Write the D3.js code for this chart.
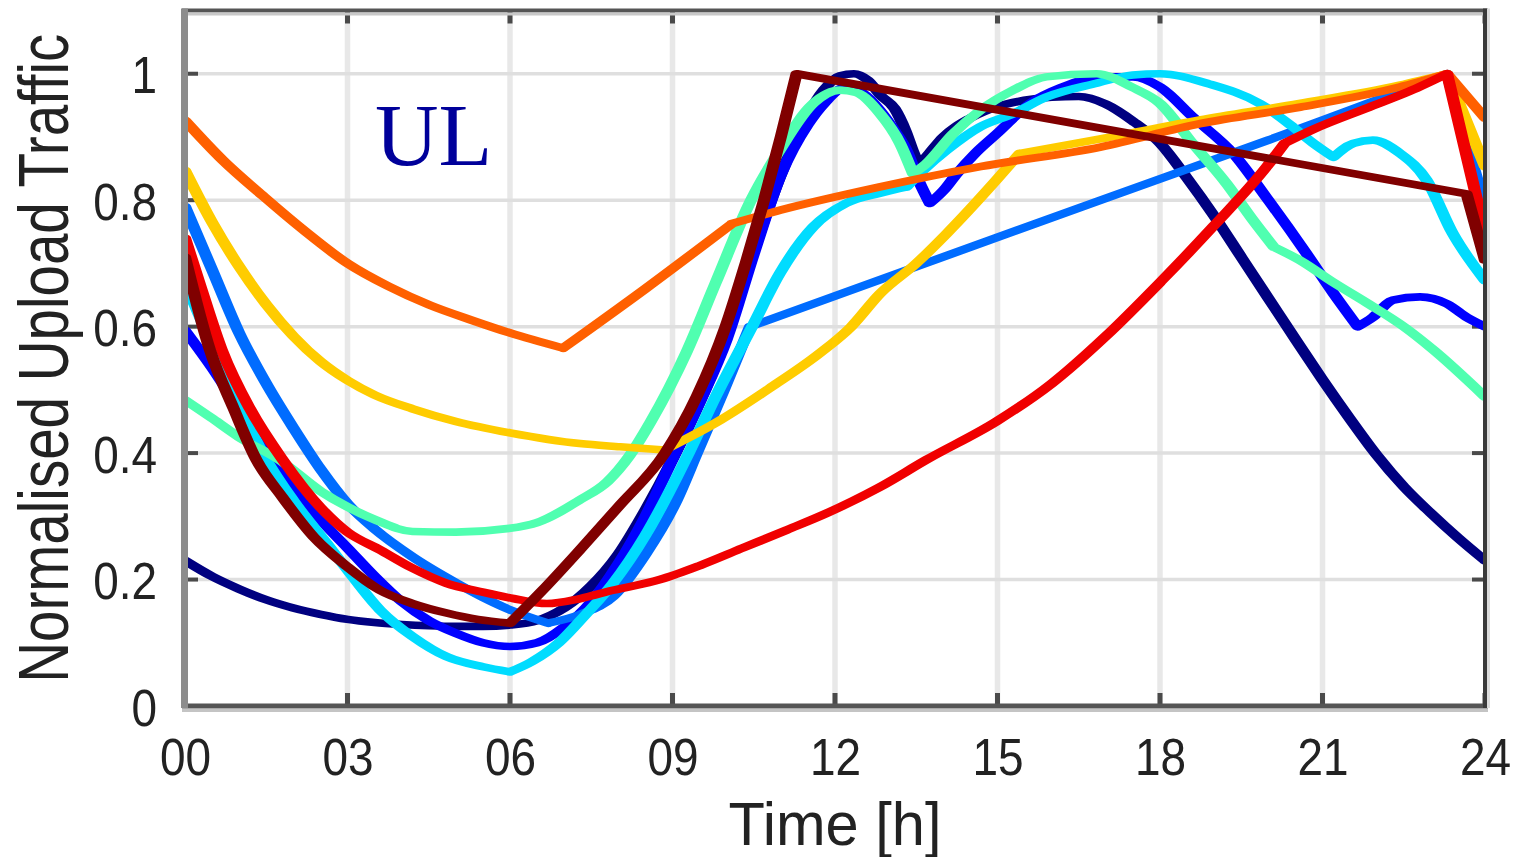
<!DOCTYPE html>
<html>
<head>
<meta charset="utf-8">
<script src="https://cdn.jsdelivr.net/npm/d3@7"></script>
<style>
  html, body { margin: 0; padding: 0; background: #fff; }
  svg { display: block; }
</style>
</head>
<body>
<svg id="chart" width="1518" height="857"></svg>
<script>
// Hourly upload traffic profiles, normalised to each profile's daily peak.
const xTickValues = [0, 3, 6, 9, 12, 15, 18, 21, 24];
const xTickLabels = ["00", "03", "06", "09", "12", "15", "18", "21", "24"];
const yTickValues = [0, 0.2, 0.4, 0.6, 0.8, 1];
const yTickLabels = ["0", "0.2", "0.4", "0.6", "0.8", "1"];

// [hour, normalised traffic]
const profileNavy = [[0,0.230],[0.5,0.205],[1,0.185],[1.5,0.168],[2,0.155],[2.5,0.145],[3,0.137],[3.5,0.132],[4,0.129],[4.5,0.127],[5,0.126],[5.5,0.126],[6,0.128],[6.5,0.135],[7,0.155],[7.5,0.19],[8,0.24],[8.5,0.31],[9,0.39],[9.5,0.48],[10,0.585],[10.5,0.72],[11,0.84],[11.5,0.935],[11.8,0.975],[12.1,0.997],[12.35,1.0],[12.6,0.99],[12.85,0.965],[13.1,0.945],[13.3,0.91],[13.45,0.875],[13.55,0.855],[13.75,0.875],[14,0.9],[14.5,0.93],[15,0.948],[15.5,0.958],[16,0.963],[16.5,0.964],[17,0.952],[17.5,0.925],[18,0.89],[18.5,0.835],[19,0.775],[19.5,0.71],[20,0.645],[20.5,0.58],[21,0.516],[21.5,0.455],[22,0.397],[22.5,0.347],[23,0.305],[23.5,0.266],[24,0.23]];
const profileBlue = [[0,0.594],[0.5,0.535],[1,0.47],[1.5,0.41],[2,0.35],[2.5,0.295],[3,0.25],[3.5,0.205],[4,0.165],[4.5,0.135],[5,0.115],[5.5,0.10],[6,0.094],[6.5,0.10],[7,0.125],[7.5,0.165],[8,0.225],[8.5,0.30],[9,0.39],[9.5,0.48],[10,0.58],[10.5,0.715],[11,0.84],[11.5,0.92],[11.8,0.953],[12.2,0.979],[12.5,0.97],[12.83,0.942],[13.1,0.91],[13.32,0.879],[13.55,0.83],[13.75,0.795],[14,0.815],[14.25,0.842],[14.6,0.875],[15,0.906],[15.6,0.953],[16.2,0.979],[16.9,0.995],[17.5,0.995],[18,0.979],[18.6,0.932],[19.35,0.874],[20,0.80],[20.7,0.716],[21.2,0.653],[21.65,0.6],[21.93,0.615],[22.3,0.642],[22.8,0.647],[23.3,0.636],[23.66,0.615],[24,0.6]];
const profileAzure = [[0,0.79],[0.5,0.69],[1,0.59],[1.5,0.51],[2,0.44],[2.5,0.375],[3,0.32],[3.5,0.28],[4.2,0.236],[5,0.195],[5.5,0.172],[6,0.152],[6.7,0.131],[7.3,0.145],[7.9,0.173],[8.5,0.24],[9.08,0.326],[9.45,0.40],[9.95,0.50],[10.43,0.6],[16.9,0.8],[20,0.895],[23.3,1.0],[24,0.79]];
const profileCyan = [[0,0.67],[0.5,0.57],[1,0.475],[1.5,0.39],[2,0.325],[2.62,0.257],[3,0.215],[3.6,0.152],[4.2,0.11],[4.83,0.078],[5.5,0.062],[6,0.054],[6.4,0.07],[6.9,0.1],[7.4,0.145],[7.9,0.194],[8.5,0.27],[9.08,0.362],[9.3,0.40],[9.8,0.49],[10.47,0.6],[10.98,0.684],[11.6,0.758],[12.2,0.795],[12.83,0.811],[13.32,0.821],[13.6,0.845],[14.06,0.879],[14.68,0.916],[15.29,0.937],[15.9,0.963],[16.83,0.985],[17.5,0.998],[18,1.0],[18.9,0.984],[19.84,0.953],[20.45,0.916],[20.83,0.89],[21.2,0.868],[21.57,0.89],[21.93,0.895],[22.43,0.874],[22.92,0.832],[23.4,0.748],[24,0.673]];
const profileGreen = [[0,0.484],[0.5,0.455],[1,0.425],[1.75,0.389],[2.5,0.34],[3,0.315],[3.5,0.295],[4.2,0.276],[5,0.275],[6,0.281],[6.5,0.29],[7.29,0.326],[7.8,0.355],[8.2,0.395],[8.6,0.45],[9.26,0.56],[9.8,0.67],[10.45,0.8],[10.98,0.879],[11.6,0.953],[12.09,0.974],[12.4,0.97],[12.83,0.937],[13.2,0.89],[13.44,0.842],[13.69,0.858],[14.18,0.905],[14.68,0.942],[15.29,0.974],[15.9,0.995],[16.83,1.0],[17.5,0.978],[18.0,0.953],[18.6,0.89],[19.23,0.826],[19.72,0.768],[20.1,0.726],[20.58,0.705],[21.2,0.67],[21.83,0.637],[22.5,0.6],[23.05,0.563],[24,0.489]];
const profileYellow = [[0,0.847],[0.5,0.765],[1,0.695],[1.5,0.635],[2,0.585],[2.5,0.545],[3,0.515],[3.5,0.492],[4.2,0.47],[5,0.45],[6,0.432],[7.29,0.415],[8.03,0.41],[8.85,0.405],[9.88,0.452],[10.8,0.503],[11.72,0.558],[12.3,0.60],[12.83,0.652],[13.5,0.70],[14.06,0.747],[14.98,0.832],[15.41,0.874],[16.9,0.897],[18.74,0.927],[20.58,0.953],[22.43,0.982],[23.3,1.0],[24,0.853]];
const profileOrange = [[0,0.926],[0.7,0.863],[1.45,0.806],[2.2,0.752],[3.0,0.70],[3.75,0.664],[4.52,0.634],[5.3,0.61],[6.0,0.59],[6.98,0.566],[8.5,0.66],[10.1,0.763],[10.98,0.784],[12.83,0.821],[14.68,0.853],[16.9,0.884],[18.74,0.921],[20.58,0.947],[22.43,0.979],[23.3,1.0],[24,0.93]];
const profileRed = [[0,0.74],[0.3,0.66],[0.68,0.563],[1.2,0.47],[1.8,0.39],[2.49,0.315],[3.0,0.275],[3.6,0.247],[4.2,0.218],[4.83,0.194],[5.5,0.18],[6.06,0.170],[6.68,0.162],[7.3,0.17],[7.9,0.183],[8.77,0.20],[9.5,0.222],[10.3,0.25],[11.1,0.278],[11.85,0.305],[12.8,0.345],[13.7,0.39],[14.98,0.45],[16.0,0.51],[17.0,0.585],[18.0,0.67],[19.0,0.76],[19.97,0.853],[20.3,0.89],[20.83,0.912],[21.8,0.945],[22.6,0.972],[23.3,1.0],[24,0.747]];
const profileMaroon = [[0,0.71],[0.46,0.563],[0.9,0.47],[1.32,0.389],[1.8,0.33],[2.37,0.268],[3.0,0.22],[3.6,0.183],[4.2,0.162],[4.83,0.147],[5.4,0.137],[6.0,0.131],[6.6,0.183],[7.29,0.247],[8.0,0.315],[8.86,0.40],[9.45,0.49],[9.98,0.60],[10.35,0.70],[10.69,0.80],[11.0,0.90],[11.29,1.0],[23.66,0.81],[24,0.705]];

// hours where a profile changes direction abruptly (corners, not smooth bends)
const kinksNavy = [13.55];
const kinksBlue = [13.75, 21.65];
const kinksAzure = [6.7, 10.43, 23.3];
const kinksCyan = [6.0, 13.32, 21.2];
const kinksGreen = [13.44, 20.1];
const kinksYellow = [8.85, 15.41, 23.3];
const kinksOrange = [6.98, 10.1, 23.3];
const kinksRed = [20.3, 23.3];
const kinksMaroon = [6.0, 11.29, 23.66];

const profiles = [profileNavy, profileBlue, profileAzure, profileCyan, profileGreen,
                  profileYellow, profileOrange, profileRed, profileMaroon];
const profileKinks = [kinksNavy, kinksBlue, kinksAzure, kinksCyan, kinksGreen,
                      kinksYellow, kinksOrange, kinksRed, kinksMaroon];
const profileColors = ["#000080", "#0000ff", "#006cff", "#00dcff", "#50ffb0",
                       "#ffcc00", "#ff6000", "#f00000", "#800000"];

const svg = d3.select("#chart");
const plotLeft = 185, plotRight = 1485, plotTop = 10.5, plotBottom = 706;

const x = d3.scaleLinear().domain([0, 24]).range([plotLeft, plotRight]);
const y = d3.scaleLinear().domain([0, 1.1]).range([plotBottom, plotTop]);

// grid (vertical rules drawn wider than horizontal ones)
const grid = svg.append("g");
grid.selectAll("line.vx").data(xTickValues.slice(1, -1)).join("line")
  .attr("x1", d => x(d)).attr("x2", d => x(d)).attr("y1", plotTop).attr("y2", plotBottom)
  .attr("stroke", "#e8e8e8").attr("stroke-width", 5.5);
grid.selectAll("line.hy").data(yTickValues.slice(1)).join("line")
  .attr("x1", plotLeft).attr("x2", plotRight).attr("y1", d => y(d)).attr("y2", d => y(d))
  .attr("stroke", "#dfdfdf").attr("stroke-width", 3.5);

// inward tick marks on all four sides
const tickGroup = svg.append("g").attr("stroke", "#4a4a4a");
const tickLen = 13;
xTickValues.forEach(v => {
  tickGroup.append("line").attr("x1", x(v)).attr("x2", x(v)).attr("y1", plotBottom).attr("y2", plotBottom - tickLen).attr("stroke-width", 5);
  tickGroup.append("line").attr("x1", x(v)).attr("x2", x(v)).attr("y1", plotTop).attr("y2", plotTop + tickLen).attr("stroke-width", 5);
});
yTickValues.forEach(v => {
  tickGroup.append("line").attr("x1", plotLeft).attr("x2", plotLeft + tickLen).attr("y1", y(v)).attr("y2", y(v)).attr("stroke-width", 4);
  tickGroup.append("line").attr("x1", plotRight).attr("x2", plotRight - tickLen).attr("y1", y(v)).attr("y2", y(v)).attr("stroke-width", 4);
});

// traffic profiles: smooth runs between corners; strokes are wider across
// than along the time axis, so the group is stretched horizontally
const stretch = 1.6;
svg.append("defs").append("clipPath").attr("id", "plot-clip")
  .append("rect").attr("x", plotLeft).attr("y", plotTop)
  .attr("width", plotRight - plotLeft).attr("height", plotBottom - plotTop);

const lineGen = d3.line()
  .x(d => x(d[0]) / stretch)
  .y(d => y(d[1]))
  .curve(d3.curveMonotoneX);

function splitAtKinks(points, kinks) {
  const runs = [];
  let run = [];
  points.forEach(p => {
    run.push(p);
    if (kinks.includes(p[0])) { runs.push(run); run = [p]; }
  });
  if (run.length > 1) runs.push(run);
  return runs;
}

const profileLayer = svg.append("g").attr("clip-path", "url(#plot-clip)")
  .append("g").attr("transform", `scale(${stretch},1)`);
profileLayer.selectAll("path").data(profiles).join("path")
  .attr("d", (d, i) => splitAtKinks(d, profileKinks[i]).map(r => lineGen(r)).join(""))
  .attr("fill", "none")
  .attr("stroke", (d, i) => profileColors[i])
  .attr("stroke-width", 7.6)
  .attr("stroke-linejoin", "round")
  .attr("stroke-linecap", "round");

// axes box
const box = svg.append("g");
box.append("line").attr("x1", plotLeft - 3).attr("x2", plotRight + 3).attr("y1", plotTop).attr("y2", plotTop)
  .attr("stroke", "#555").attr("stroke-width", 4);
box.append("line").attr("x1", plotLeft - 3).attr("x2", plotRight + 3).attr("y1", plotTop + 3.5).attr("y2", plotTop + 3.5)
  .attr("stroke", "#c8c8c8").attr("stroke-width", 3);
box.append("line").attr("x1", plotLeft - 3).attr("x2", plotRight + 3).attr("y1", plotBottom).attr("y2", plotBottom)
  .attr("stroke", "#555").attr("stroke-width", 5);
box.append("line").attr("x1", plotLeft - 3).attr("x2", plotRight + 3).attr("y1", plotBottom + 4.5).attr("y2", plotBottom + 4.5)
  .attr("stroke", "#c4c4c4").attr("stroke-width", 3);
box.append("line").attr("x1", plotRight).attr("x2", plotRight).attr("y1", plotTop - 2).attr("y2", plotBottom + 2)
  .attr("stroke", "#3a3a3a").attr("stroke-width", 4);
box.append("line").attr("x1", plotRight + 3.5).attr("x2", plotRight + 3.5).attr("y1", plotTop - 2).attr("y2", plotBottom + 2)
  .attr("stroke", "#dcdcdc").attr("stroke-width", 3);
box.append("line").attr("x1", plotLeft - 0.5).attr("x2", plotLeft - 0.5).attr("y1", plotTop - 2).attr("y2", plotBottom + 2)
  .attr("stroke", "#8c8c8c").attr("stroke-width", 7);

// axis labels through d3 axes (no lines, labels only)
const font = "'Liberation Sans', Arial, sans-serif";
const xAxis = d3.axisBottom(x).tickValues(xTickValues)
  .tickFormat((d, i) => xTickLabels[i]).tickSize(0).tickPadding(0);
const gx = svg.append("g").attr("transform", `translate(0,${plotBottom})`).call(xAxis);
gx.select(".domain").remove();
gx.selectAll("text").attr("y", 69).attr("dy", null)
  .style("font-family", font).style("font-size", "51px").attr("fill", "#222");

const yAxis = d3.axisLeft(y).tickValues(yTickValues)
  .tickFormat((d, i) => yTickLabels[i]).tickSize(0).tickPadding(0);
const gy = svg.append("g").attr("transform", `translate(${plotLeft},0)`).call(yAxis);
gy.select(".domain").remove();
gy.selectAll("text").attr("x", -28).attr("dy", null).attr("y", 19)
  .style("font-family", font).style("font-size", "51px").attr("fill", "#222");

// slightly condensed numerals
svg.selectAll(".tick text").each(function () {
  const w = this.getComputedTextLength();
  d3.select(this).attr("textLength", w * 0.9).attr("lengthAdjust", "spacingAndGlyphs");
});

svg.append("text")
  .attr("x", (plotLeft + plotRight) / 2).attr("y", 845)
  .attr("text-anchor", "middle")
  .style("font-family", font).style("font-size", "61px").attr("fill", "#222")
  .attr("textLength", 213).attr("lengthAdjust", "spacingAndGlyphs")
  .text("Time [h]");

svg.append("text")
  .attr("transform", `translate(68,${(plotTop + plotBottom) / 2}) rotate(-90)`)
  .attr("text-anchor", "middle")
  .style("font-family", font).style("font-size", "70px").attr("fill", "#222")
  .attr("textLength", 649).attr("lengthAdjust", "spacingAndGlyphs")
  .text("Normalised Upload Traffic");

svg.append("text")
  .attr("x", 375).attr("y", 165)
  .style("font-family", "'Liberation Serif', 'Times New Roman', serif")
  .style("font-size", "88px").attr("fill", "#00009a")
  .text("UL");
</script>
</body>
</html>
